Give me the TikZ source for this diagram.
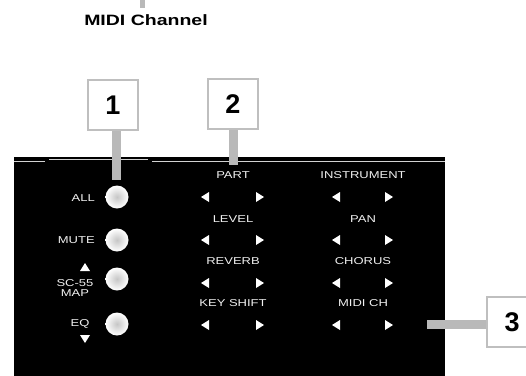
\documentclass[tikz,border=0pt]{standalone}
\usepackage{fontspec}
\setmainfont{Liberation Sans}
\usetikzlibrary{positioning,shadings}

\tikzset{
  paneltext/.style={text=gray!12, font=\fontsize{10}{11}\selectfont, xscale=1.3, inner sep=0pt},
  callout/.style={draw=gray!50, line width=2pt, fill=white, minimum width=50pt, minimum height=50pt,
    inner sep=0pt, font=\fontsize{27}{27}\selectfont\bfseries},
  stem/.style={draw=gray!55, line width=9pt},
  knob/.style={circle, minimum size=23pt, inner sep=0pt, inner color=gray!45, outer color=white},
  arrowtri/.style={fill=white},
}

\begin{document}
\begin{tikzpicture}[x=1pt, y=-1pt]
  \useasboundingbox (0,0) rectangle (526,375);
  \clip (0,0) rectangle (526,375);

  % front panel
  \fill[black] (14,157) rectangle (445,380);
  \draw[gray!35, line width=0.8pt] (14,161) -- (45,161);
  \draw[gray!35, line width=0.8pt] (49,159) -- (148,159);
  \draw[gray!35, line width=0.8pt] (152,161) -- (445,161);

  % title with the stub above it
  \coordinate (ttop) at (142,0);
  \coordinate (tbot) at (142,8);
  \draw[stem, line width=5pt] (ttop) -- (tbot);
  \node[font=\fontsize{15}{15}\selectfont\bfseries, xscale=1.3, inner sep=0pt] (title) at (146,20) {MIDI Channel};

  % knobs on the left
  \node[knob] (kAll) at (117,197) {};
  \node[knob] (kMute) at (117,240) {};
  \node[knob] (kMap) at (117,279) {};
  \node[knob] (kEq) at (117,324) {};

  \node[paneltext, anchor=east] (lAll) at (95,198) {ALL};
  \node[paneltext, anchor=east] (lMute) at (95,240) {MUTE};
  \node[paneltext, align=center] (lMap) at (75,288) {SC-55\\[-1pt]MAP};
  \node[paneltext] (lEq) at (80,324) {EQ};
  \fill[arrowtri] (85,263) -- (90,271) -- (80,271) -- cycle;
  \fill[arrowtri] (85,343) -- (90,335) -- (80,335) -- cycle;

  % parameter labels
  \node[paneltext] (part) at (233,175) {PART};
  \node[paneltext] (level) at (233,219) {LEVEL};
  \node[paneltext] (reverb) at (233,261) {REVERB};
  \node[paneltext] (keysh) at (233,303) {KEY SHIFT};
  \node[paneltext] (instr) at (363,175) {INSTRUMENT};
  \node[paneltext] (pan) at (363,219) {PAN};
  \node[paneltext] (chorus) at (363,261) {CHORUS};
  \node[paneltext] (midich) at (363,303) {MIDI CH};

  % value buttons
  \foreach \y in {197,240,283,325} {
    \foreach \x in {205,336}
      \fill[arrowtri] (\x-4,\y) -- (\x+4,\y-5) -- (\x+4,\y+5) -- cycle;
    \foreach \x in {260,389}
      \fill[arrowtri] (\x+4,\y) -- (\x-4,\y-5) -- (\x-4,\y+5) -- cycle;
  }

  % callouts
  \node[callout] (c1) at (113,105) {1};
  \node[callout] (c2) at (233,104) {2};
  \node[callout] (c3) at (512,322) {3};

  \coordinate (s1) at (116,180);
  \coordinate (s2) at (233,165);
  \coordinate (s3) at (427,324);
  \draw[stem] (s1 |- c1.south) -- (s1);
  \draw[stem] (s2 |- c2.south) -- (s2);
  \draw[stem] (c3.west |- s3) -- (s3);
\end{tikzpicture}
\end{document}
